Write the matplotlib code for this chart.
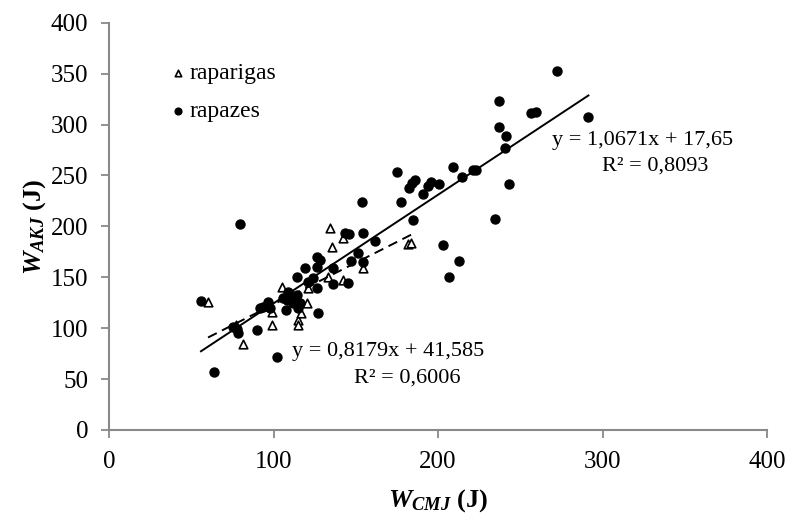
import matplotlib
matplotlib.use("Agg")
import matplotlib.pyplot as plt
import numpy as np

# rapazes (filled circles)
boys_x = [79.6, 55.9, 63.8, 75.5, 77.5, 78.5, 90.2, 91.8, 93.8, 96.8, 97.9, 102.3, 106.0, 107.6,
          108.0, 109.0, 110.0, 114.1, 114.1, 112.0, 116.1, 115.1, 119.0, 121.2, 124.2, 126.3,
          128.3, 126.3, 126.3, 127.2, 136.3, 136.3, 143.5, 145.9, 145.1, 147.1, 151.6, 154.6,
          154.6, 154.0, 161.7, 175.3, 177.3, 182.4, 184.0, 186.0, 184.8, 191.1, 193.7, 195.6,
          200.6, 202.9, 206.7, 209.3, 212.8, 214.4, 221.5, 223.1, 234.7, 237.3, 237.3, 240.5,
          241.3, 243.3, 256.4, 259.4, 272.5, 291.4]
boys_y = [202.5, 126.8, 57.0, 101.5, 99.0, 95.3, 98.3, 120.2, 121.2, 126.1, 119.6, 72.0, 129.4, 117.9,
          127.8, 135.9, 132.7, 150.7, 132.7, 124.5, 124.5, 119.6, 159.0, 145.2, 149.7, 170.3,
          167.1, 160.5, 139.3, 114.7, 158.9, 143.2, 193.3, 192.3, 144.2, 166.1, 173.7, 193.3,
          165.4, 224.1, 185.7, 253.9, 224.4, 238.1, 243.0, 245.7, 206.4, 231.6, 239.8, 243.7,
          241.5, 181.8, 150.1, 258.8, 166.1, 248.3, 255.5, 255.5, 207.1, 322.7, 297.5, 276.9,
          288.9, 241.5, 311.3, 312.8, 352.8, 307.6]

# raparigas (open triangles)
girls_x = [60.2, 77.0, 81.6, 98.9, 98.9, 105.4, 115.1, 115.1, 116.5, 120.2, 120.8, 132.9, 134.3,
           135.7, 142.4, 142.4, 154.6, 181.6, 183.6]
girls_y = [125.8, 103.2, 84.2, 115.7, 103.2, 140.2, 108.1, 103.2, 115.3, 124.5, 139.3, 150.7, 198.8,
           180.1, 188.4, 147.4, 159.5, 182.8, 184.1]

boys_fit = (1.0671, 17.65)
girls_fit = (0.8179, 41.585)
boys_eq = ["y = 1,0671x + 17,65", "R² = 0,8093"]
girls_eq = ["y = 0,8179x + 41,585", "R² = 0,6006"]

x_ticks = [0, 100, 200, 300, 400]
y_ticks = [0, 50, 100, 150, 200, 250, 300, 350, 400]

plt.rcParams['font.family'] = ['Liberation Serif', 'DejaVu Serif']
plt.rcParams['mathtext.fontset'] = 'custom'
plt.rcParams['mathtext.rm'] = 'Liberation Serif'
plt.rcParams['mathtext.it'] = 'Liberation Serif:italic'
plt.rcParams['mathtext.bf'] = 'Liberation Serif:bold'
plt.rcParams['mathtext.bfit'] = 'Liberation Serif:italic:bold'

fig = plt.figure(figsize=(7.9, 5.18), dpi=100)
ax = fig.add_axes([0.138, 0.170, 0.833, 0.786])

ax.scatter(girls_x, girls_y, marker='^', s=38, facecolors='white', edgecolors='black',
           linewidths=1.2, label='raparigas', zorder=3)
ax.scatter(boys_x, boys_y, marker='o', s=42, color='black', label='rapazes', zorder=4)

bx = np.array([min(boys_x), max(boys_x)])
ax.plot(bx, boys_fit[0] * bx + boys_fit[1], color='black', lw=1.4, zorder=5)
gx = np.array([min(girls_x), max(girls_x)])
ax.plot(gx, girls_fit[0] * gx + girls_fit[1], color='black', lw=1.4, ls=(0, (5, 3)), zorder=5)

ax.text(269, 284, boys_eq[0], fontsize=16, ha='left', va='center')
ax.text(332, 259, boys_eq[1], fontsize=16, ha='center', va='center')
ax.text(111, 77, girls_eq[0], fontsize=16, ha='left', va='center')
ax.text(181, 51, girls_eq[1], fontsize=16, ha='center', va='center')

ax.set_xlim(0, 400)
ax.set_ylim(0, 400)
ax.set_xticks(x_ticks)
ax.set_yticks(y_ticks)
ax.tick_params(direction='out', length=6, width=1.3, color='#898989', labelsize=18, pad=9)
for s in ['top', 'right']:
    ax.spines[s].set_visible(False)
for s in ['left', 'bottom']:
    ax.spines[s].set_color('#898989')
    ax.spines[s].set_linewidth(1.5)

ax.set_xlabel(r'$\mathbfit{W}_{\mathbfit{CMJ}}$ (J)', fontsize=19, fontweight='bold', labelpad=10)
ax.set_ylabel(r'$\mathbfit{W}_{\mathbfit{AKJ}}$ (J)', fontsize=19, fontweight='bold', labelpad=2)

leg = ax.legend(loc='upper left', bbox_to_anchor=(0.08, 0.925), frameon=False, fontsize=17,
                handlelength=0.6, handletextpad=0.2, labelspacing=0.7, markerscale=0.75,
                borderaxespad=0)

fig.savefig('out.png', dpi=100)
